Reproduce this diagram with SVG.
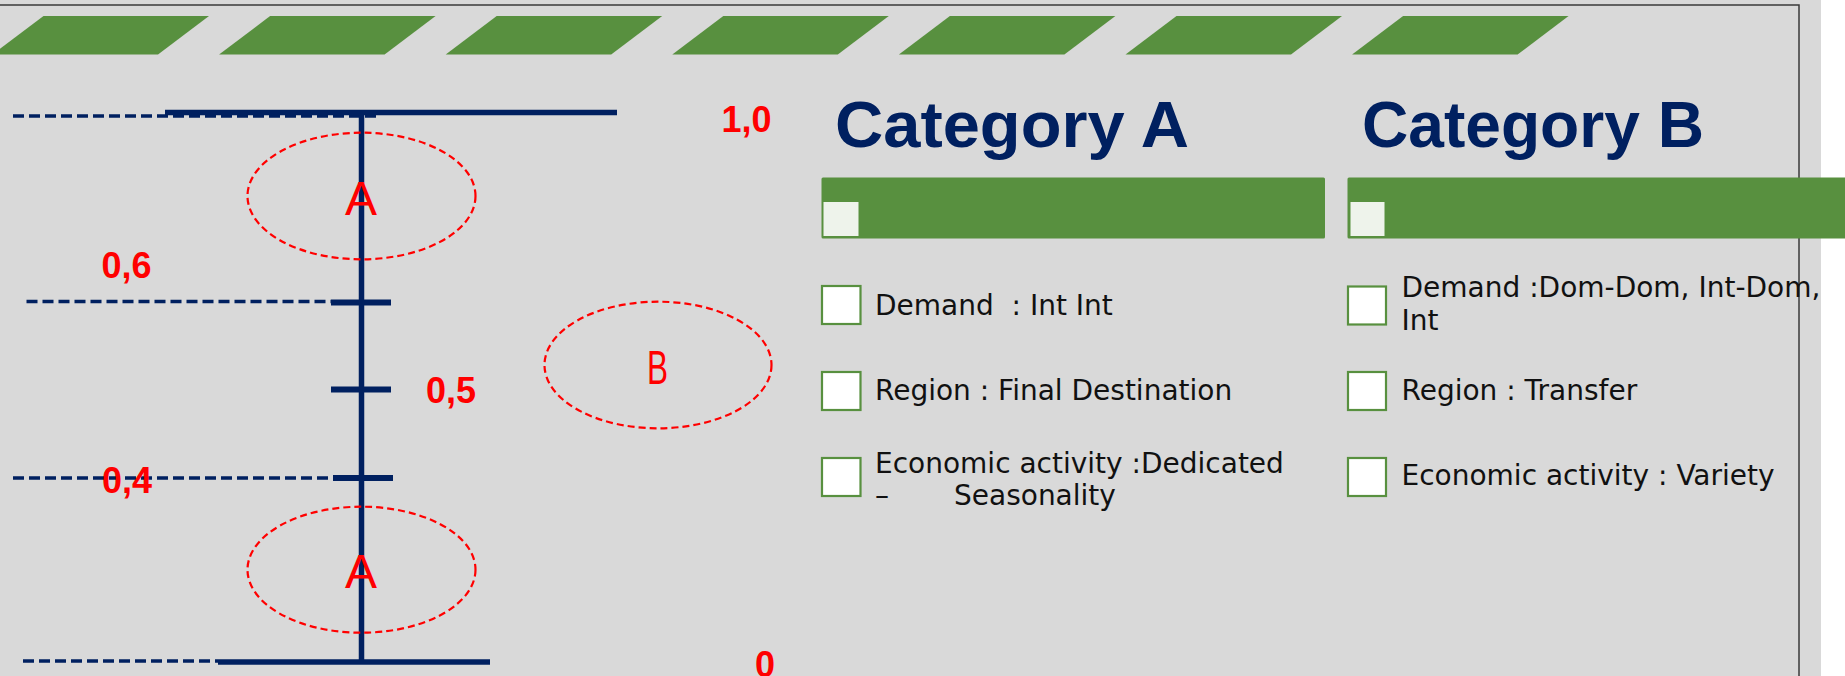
<svg xmlns="http://www.w3.org/2000/svg" width="1845" height="676" viewBox="0 0 1845 676">
<style>
.bg{fill:#D9D9D9}
.para{fill:#58903F}
.bar{fill:#58903F}
.hl{fill:#EEF3EB}
.navy{stroke:#002060;fill:none}
.solid{stroke-width:5.5}
.tick{stroke-width:6}
.dash{stroke-width:3.5;stroke-dasharray:11 5}
.ell{fill:none;stroke:#FF0000;stroke-width:2.2;stroke-dasharray:7 4}
.val{font-family:"Liberation Sans",Arial,sans-serif;font-weight:bold;font-size:36px;fill:#FF0000}
.let{font-family:"Liberation Sans",Arial,sans-serif;font-size:48px;fill:#FF0000;text-anchor:middle}
.cat{font-family:"Liberation Sans",Arial,sans-serif;font-weight:bold;font-size:64px;fill:#002060}
.box{fill:#FFFFFF;stroke:#58903F;stroke-width:2.2}
.item{font-family:"DejaVu Sans",sans-serif;font-size:28px;fill:#111111;white-space:pre}
</style>
<rect class="bg" x="0" y="0" width="1821" height="676"/>
<rect x="-3" y="5" width="1802" height="700" fill="none" stroke="#3a3a3a" stroke-width="1.5"/>
<g id="header-band">
<polygon class="para" points="43.5,16 209,16 158,54.5 -7.5,54.5"/>
<polygon class="para" points="270.1,16 435.6,16 384.6,54.5 219.1,54.5"/>
<polygon class="para" points="496.7,16 662.2,16 611.2,54.5 445.7,54.5"/>
<polygon class="para" points="723.3,16 888.8,16 837.8,54.5 672.3,54.5"/>
<polygon class="para" points="949.9,16 1115.4,16 1064.4,54.5 898.9,54.5"/>
<polygon class="para" points="1176.5,16 1342,16 1291,54.5 1125.5,54.5"/>
<polygon class="para" points="1403.1,16 1568.6,16 1517.6,54.5 1352.1,54.5"/>
</g>
<g id="connectors">
<line class="navy dash" x1="13" y1="116" x2="377" y2="116"/>
<line class="navy solid" x1="165" y1="112.5" x2="617" y2="112.5"/>
<line class="navy solid" x1="361.5" y1="112" x2="361.5" y2="662"/>
<line class="navy dash" x1="26.5" y1="301.5" x2="331" y2="301.5"/>
<line class="navy tick" x1="331" y1="302.5" x2="391" y2="302.5"/>
<line class="navy tick" x1="331" y1="389.5" x2="391" y2="389.5"/>
<line class="navy dash" x1="13" y1="478" x2="333" y2="478"/>
<line class="navy tick" x1="333" y1="478" x2="393" y2="478"/>
<line class="navy dash" x1="23" y1="661" x2="218" y2="661"/>
<line class="navy solid" x1="218" y1="662" x2="490" y2="662"/>
</g>
<g id="scale-labels">
<text class="val" x="721.5" y="131.5">1,0</text>
<text class="val" x="101.5" y="277.5">0,6</text>
<text class="val" x="426" y="402.5">0,5</text>
<text class="val" x="102" y="493">0,4</text>
<text class="val" x="755" y="676.5">0</text>
</g>
<g id="zone-A-top">
<ellipse class="ell" cx="361.5" cy="196" rx="114" ry="63.3"/>
<text class="let" x="361" y="215">A</text>
</g>
<g id="zone-B">
<ellipse class="ell" cx="658" cy="365" rx="113.5" ry="63.3"/>
<text class="let" x="657.5" y="384" font-size="47" textLength="21" lengthAdjust="spacingAndGlyphs">B</text>
</g>
<g id="zone-A-bottom">
<ellipse class="ell" cx="361.5" cy="569.7" rx="114" ry="63"/>
<text class="let" x="361" y="588">A</text>
</g>
<g id="category-A">
<text class="cat" x="835" y="146.5" textLength="354" lengthAdjust="spacingAndGlyphs">Category A</text>
<rect class="bar" x="821.5" y="177.5" width="503.5" height="61" rx="1.5"/>
<rect class="hl" x="823.5" y="202" width="35" height="34"/>
<rect class="box" x="822" y="286" width="38.5" height="38"/>
<text class="item" x="875" y="315">Demand  : Int Int</text>
<rect class="box" x="822" y="372" width="38.5" height="38"/>
<text class="item" x="875" y="400">Region : Final Destination</text>
<rect class="box" x="822" y="458" width="38.5" height="38"/>
<text class="item" x="875" y="473.3">Economic activity :Dedicated</text>
<text class="item" y="505"><tspan x="875">–</tspan><tspan x="954">Seasonality</tspan></text>
</g>
<g id="category-B">
<text class="cat" x="1362" y="146.5" textLength="342" lengthAdjust="spacingAndGlyphs">Category B</text>
<rect class="bar" x="1347.5" y="177.5" width="520" height="61" rx="1.5"/>
<rect class="hl" x="1350.5" y="202" width="34" height="34"/>
<rect class="box" x="1348" y="286.5" width="38" height="38"/>
<text class="item" x="1401.5" y="297">Demand :Dom-Dom, Int-Dom,</text>
<text class="item" x="1401.5" y="330">Int</text>
<rect class="box" x="1348" y="372" width="38" height="38"/>
<text class="item" x="1401.5" y="400">Region : Transfer</text>
<rect class="box" x="1348" y="458" width="38" height="38"/>
<text class="item" x="1401.5" y="485">Economic activity : Variety</text>
</g>
</svg>
